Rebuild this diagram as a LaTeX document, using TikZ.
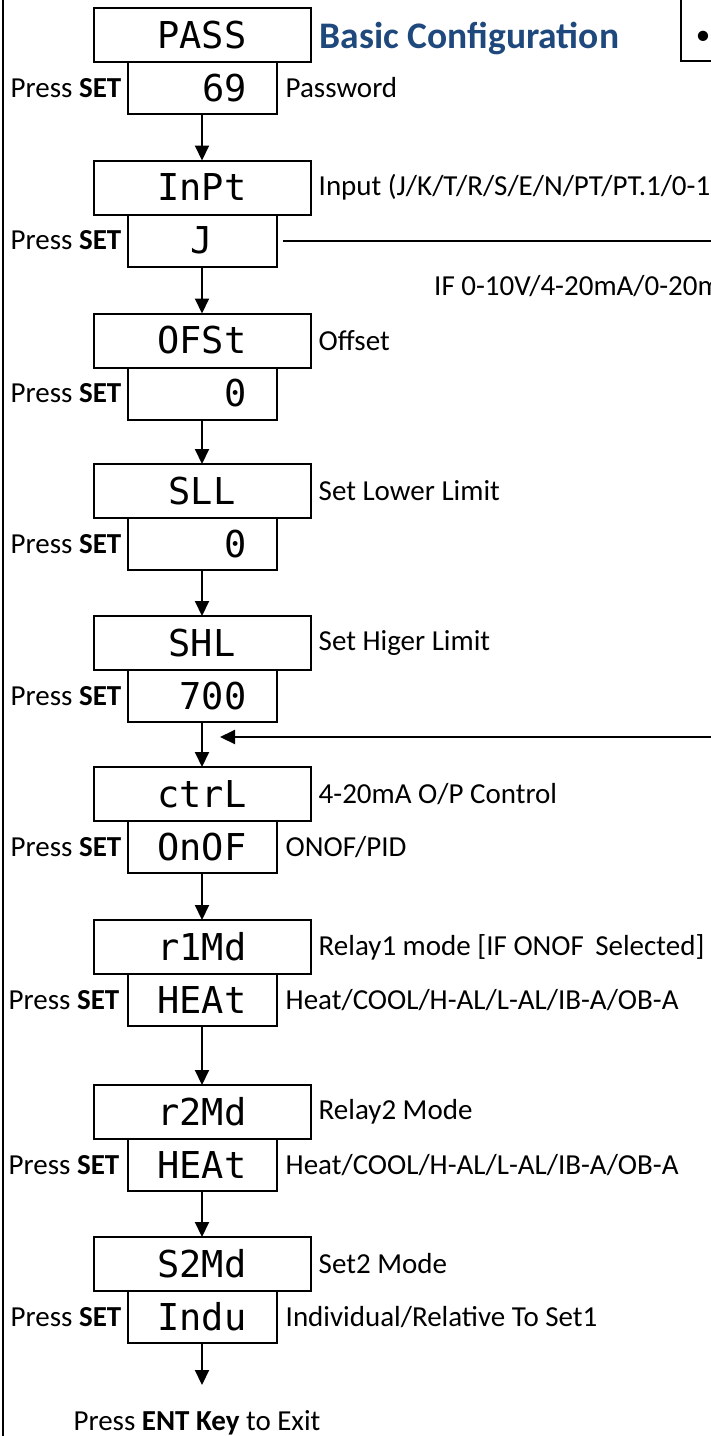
\documentclass[tikz,border=0pt]{standalone}
\usepackage{fontspec}
\setmainfont{Carlito}
\newfontfamily\segfont{DejaVu Sans Mono}
\definecolor{cfgBlue}{RGB}{31,73,125}
\usetikzlibrary{arrows.meta,positioning}

\begin{document}
\begin{tikzpicture}[x=1pt, y=-1pt,
    disp/.style={rectangle, draw, minimum width=217pt, minimum height=54pt,
                 line width=2pt, outer sep=0pt, inner sep=0pt,
                 font=\segfont\fontsize{37}{40}\selectfont},
    val/.style={disp, minimum width=149pt, minimum height=52pt},
    lbl/.style={inner sep=0pt, font=\fontsize{29}{35}\selectfont},
    arr/.style={-{Triangle[length=15pt,width=14pt]}, line width=2pt}
  ]
  \useasboundingbox (0,0) rectangle (711,1436);
  \draw[line width=2pt] (3,0) -- (3,1436);

  % note box, top right
  \node[draw, line width=1.5pt, outer sep=0pt, minimum width=100pt,
        minimum height=90pt, anchor=south west] (notebox) at (681,61) {};
  \node[lbl] (dot) at (703,38) {\textbullet};

  % password
  \node[disp] (pass) at (202,35) {PASS};
  \node[val, below=0pt of pass] (pw) {\phantom{00}69};
  \node[lbl, right=9pt of pass, yshift=-3pt, text=cfgBlue,
        font=\bfseries\fontsize{37.5}{44}\selectfont] (title) {Basic Configuration};
  \node[lbl, left=6pt of pw] (set1) {Press \textbf{SET}};
  \node[lbl, right=9pt of pw] (pwl) {Password};

  % input type
  \node[disp] (inpt) at (202,187.5) {InPt};
  \node[val, below=0pt of inpt] (jv) {J};
  \node[lbl, right=8pt of inpt] (inptl) {Input (J/K/T/R/S/E/N/PT/PT.1/0-1};
  \node[lbl, left=6pt of jv] (set2) {Press \textbf{SET}};
  \node[lbl, anchor=west] (ifl) at (434,286) {IF 0-10V/4-20mA/0-20m};
  \coordinate (jout) at (760,240);
  \draw[line width=2pt] ([xshift=6pt]jv.east) -- (jout |- jv.east);
  \draw[arr] (pw) -- (inpt);

  % offset
  \node[disp] (ofst) at (202,340.5) {OFSt};
  \node[val, below=0pt of ofst] (ofv) {\phantom{000}0};
  \node[lbl, right=8pt of ofst] (ofstl) {Offset};
  \node[lbl, left=6pt of ofv] (set3) {Press \textbf{SET}};
  \draw[arr] (jv) -- (ofst);

  % lower limit
  \node[disp] (sll) at (202,491) {SLL};
  \node[val, below=0pt of sll] (sllv) {\phantom{000}0};
  \node[lbl, right=8pt of sll] (slll) {Set Lower Limit};
  \node[lbl, left=6pt of sllv] (set4) {Press \textbf{SET}};
  \draw[arr] (ofv) -- (sll);

  % higher limit
  \node[disp] (shl) at (202,643) {SHL};
  \node[val, below=0pt of shl] (shlv) {\phantom{0}700};
  \node[lbl, right=8pt of shl] (shll) {Set Higer Limit};
  \node[lbl, left=6pt of shlv] (set5) {Press \textbf{SET}};
  \draw[arr] (sllv) -- (shl);

  % control
  \node[disp] (ctrl) at (202,794) {ctrL};
  \node[val, below=0pt of ctrl] (ctrlv) {OnOF};
  \node[lbl, right=8pt of ctrl] (ctrll) {4-20mA O/P Control};
  \node[lbl, left=6pt of ctrlv] (set6) {Press \textbf{SET}};
  \node[lbl, right=9pt of ctrlv] (ctrlo) {ONOF/PID};
  \draw[arr] (shlv) -- (ctrl);
  \coordinate (fbin) at (760,737);
  \coordinate (fbtip) at (220,737);
  \draw[arr] (fbin) -- (fbtip);

  % relay 1
  \node[disp] (r1md) at (202,947) {r1Md};
  \node[val, below=0pt of r1md] (r1v) {HEAt};
  \node[lbl, right=8pt of r1md] (r1l) {Relay1 mode [IF ONOF\, Selected]};
  \node[lbl, left=8pt of r1v] (set7) {Press \textbf{SET}};
  \node[lbl, right=9pt of r1v] (r1o) {Heat/COOL/H-AL/L-AL/IB-A/OB-A};
  \draw[arr] (ctrlv) -- (r1md);

  % relay 2
  \node[disp] (r2md) at (202,1112) {r2Md};
  \node[val, below=0pt of r2md] (r2v) {HEAt};
  \node[lbl, right=8pt of r2md] (r2l) {Relay2 Mode};
  \node[lbl, left=8pt of r2v] (set8) {Press \textbf{SET}};
  \node[lbl, right=9pt of r2v] (r2o) {Heat/COOL/H-AL/L-AL/IB-A/OB-A};
  \draw[arr] (r1v) -- (r2md);

  % set 2
  \node[disp] (s2md) at (202,1264) {S2Md};
  \node[val, below=0pt of s2md] (indu) {Indu};
  \node[lbl, right=8pt of s2md] (s2l) {Set2 Mode};
  \node[lbl, left=6pt of indu] (set9) {Press \textbf{SET}};
  \node[lbl, right=9pt of indu] (s2o) {Individual/Relative To Set1};
  \draw[arr] (r2v) -- (s2md);

  % exit
  \node[lbl] (exit) at (197,1423) {Press \textbf{ENT Key} to Exit};
  \coordinate (stop) at (202,1385);
  \draw[arr] (indu) -- (stop);
\end{tikzpicture}
\end{document}
